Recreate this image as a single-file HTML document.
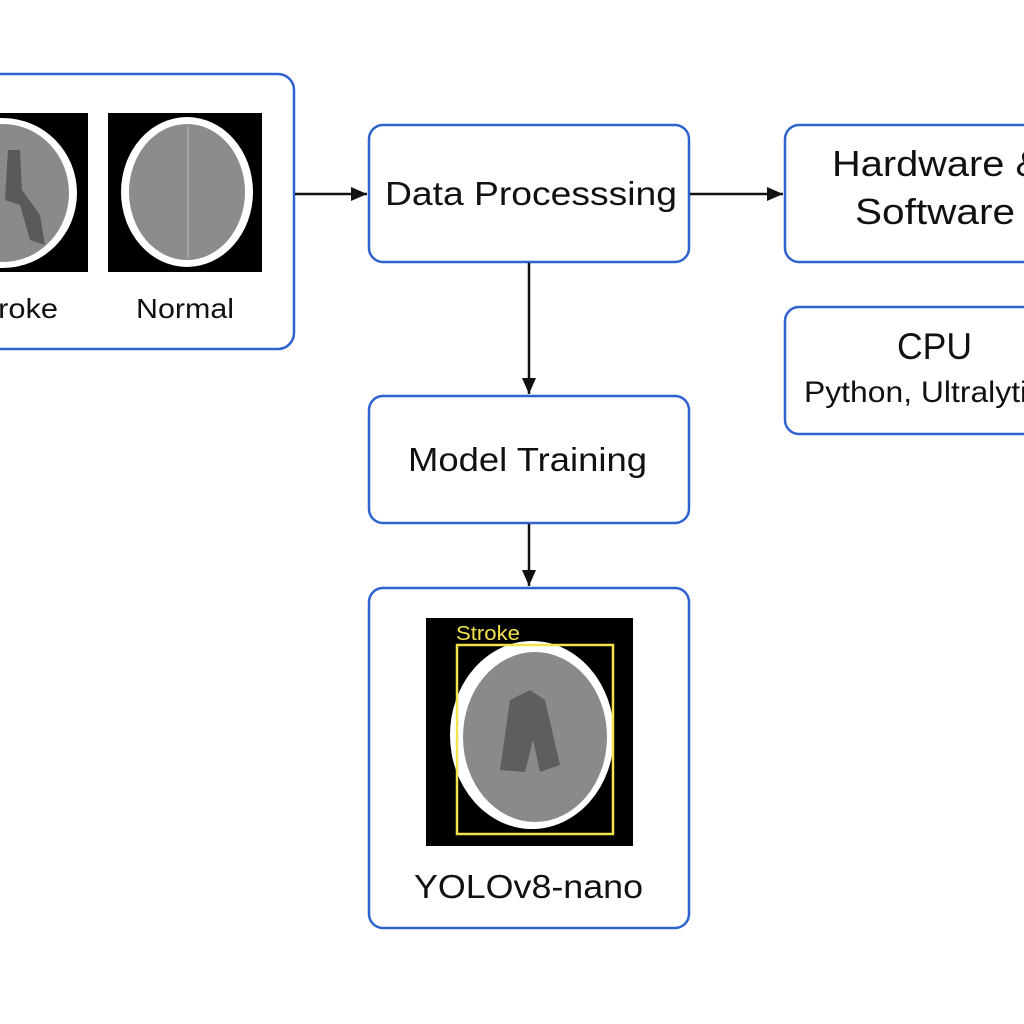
<!DOCTYPE html>
<html><head><meta charset="utf-8"><style>
html,body{margin:0;padding:0;background:#fff;}
svg{display:block;}
text{font-family:"Liberation Sans",sans-serif;fill:#111;}
</style></head><body>
<svg width="1024" height="1024" viewBox="0 0 1024 1024" xmlns="http://www.w3.org/2000/svg">
<defs>
<marker id="a2" markerWidth="20" markerHeight="20" refX="16" refY="8" orient="auto" markerUnits="userSpaceOnUse">
<path d="M0,1 L16,8 L0,15 Z" fill="#111"/>
</marker>
</defs>
<g fill="none" stroke="#2f63d0" stroke-width="2.5">
<rect x="-20" y="74" width="314" height="275" rx="16"/>
<rect x="369" y="125" width="320" height="137" rx="14"/>
<rect x="785" y="125" width="260" height="137" rx="14"/>
<rect x="785" y="307" width="260" height="127" rx="14"/>
<rect x="369" y="396" width="320" height="127" rx="14"/>
<rect x="369" y="588" width="320" height="340" rx="14"/>
</g>
<rect x="-5" y="113" width="93" height="159" fill="#000"/>
<ellipse cx="3" cy="193" rx="74" ry="75" fill="#fff"/>
<ellipse cx="3" cy="193" rx="66" ry="69" fill="#8a8a8a"/>
<path d="M8,150 L20,150 L22,190 L40,215 L45,245 L30,240 L20,205 L5,200 Z" fill="#5a5a5a"/>
<rect x="108" y="113" width="154" height="159" fill="#000"/>
<ellipse cx="187" cy="192" rx="66" ry="75" fill="#fff"/>
<ellipse cx="187" cy="192" rx="58" ry="68" fill="#8c8c8c"/>
<line x1="188" y1="126" x2="188" y2="258" stroke="#bbb" stroke-width="1"/>
<text x="-31" y="318" font-size="28" textLength="89" lengthAdjust="spacingAndGlyphs">Stroke</text>
<text x="136" y="318" font-size="28" textLength="98" lengthAdjust="spacingAndGlyphs">Normal</text>
<g stroke="#111" stroke-width="2.5">
<line x1="295" y1="194" x2="367" y2="194" marker-end="url(#a2)"/>
<line x1="690" y1="194" x2="783" y2="194" marker-end="url(#a2)"/>
<line x1="529" y1="263" x2="529" y2="394" marker-end="url(#a2)"/>
<line x1="529" y1="524" x2="529" y2="586" marker-end="url(#a2)"/>
</g>
<text x="385" y="205" font-size="33" textLength="292" lengthAdjust="spacingAndGlyphs">Data Processsing</text>
<text x="832" y="176" font-size="36" textLength="210" lengthAdjust="spacingAndGlyphs">Hardware &amp;</text>
<text x="855" y="224" font-size="36" textLength="160" lengthAdjust="spacingAndGlyphs">Software</text>
<text x="897" y="359" font-size="37" textLength="75" lengthAdjust="spacingAndGlyphs">CPU</text>
<text x="804" y="402" font-size="30" textLength="255" lengthAdjust="spacingAndGlyphs">Python, Ultralytics</text>
<text x="408" y="471" font-size="33" textLength="239" lengthAdjust="spacingAndGlyphs">Model Training</text>
<rect x="426" y="618" width="207" height="228" fill="#000"/>
<ellipse cx="532" cy="735" rx="82" ry="94" fill="#fff"/>
<ellipse cx="535" cy="737" rx="72" ry="85" fill="#8a8a8a"/>
<path d="M510,700 L530,690 L545,700 L560,765 L540,772 L533,740 L525,772 L500,770 Z" fill="#5e5e5e"/>
<rect x="457" y="645" width="156" height="189" fill="none" stroke="#f2e34a" stroke-width="2.5"/>
<text x="456" y="640" font-size="20" textLength="64" lengthAdjust="spacingAndGlyphs" style="fill:#f2e34a">Stroke</text>
<text x="414" y="898" font-size="33" textLength="229" lengthAdjust="spacingAndGlyphs">YOLOv8-nano</text>
</svg>
</body></html>
